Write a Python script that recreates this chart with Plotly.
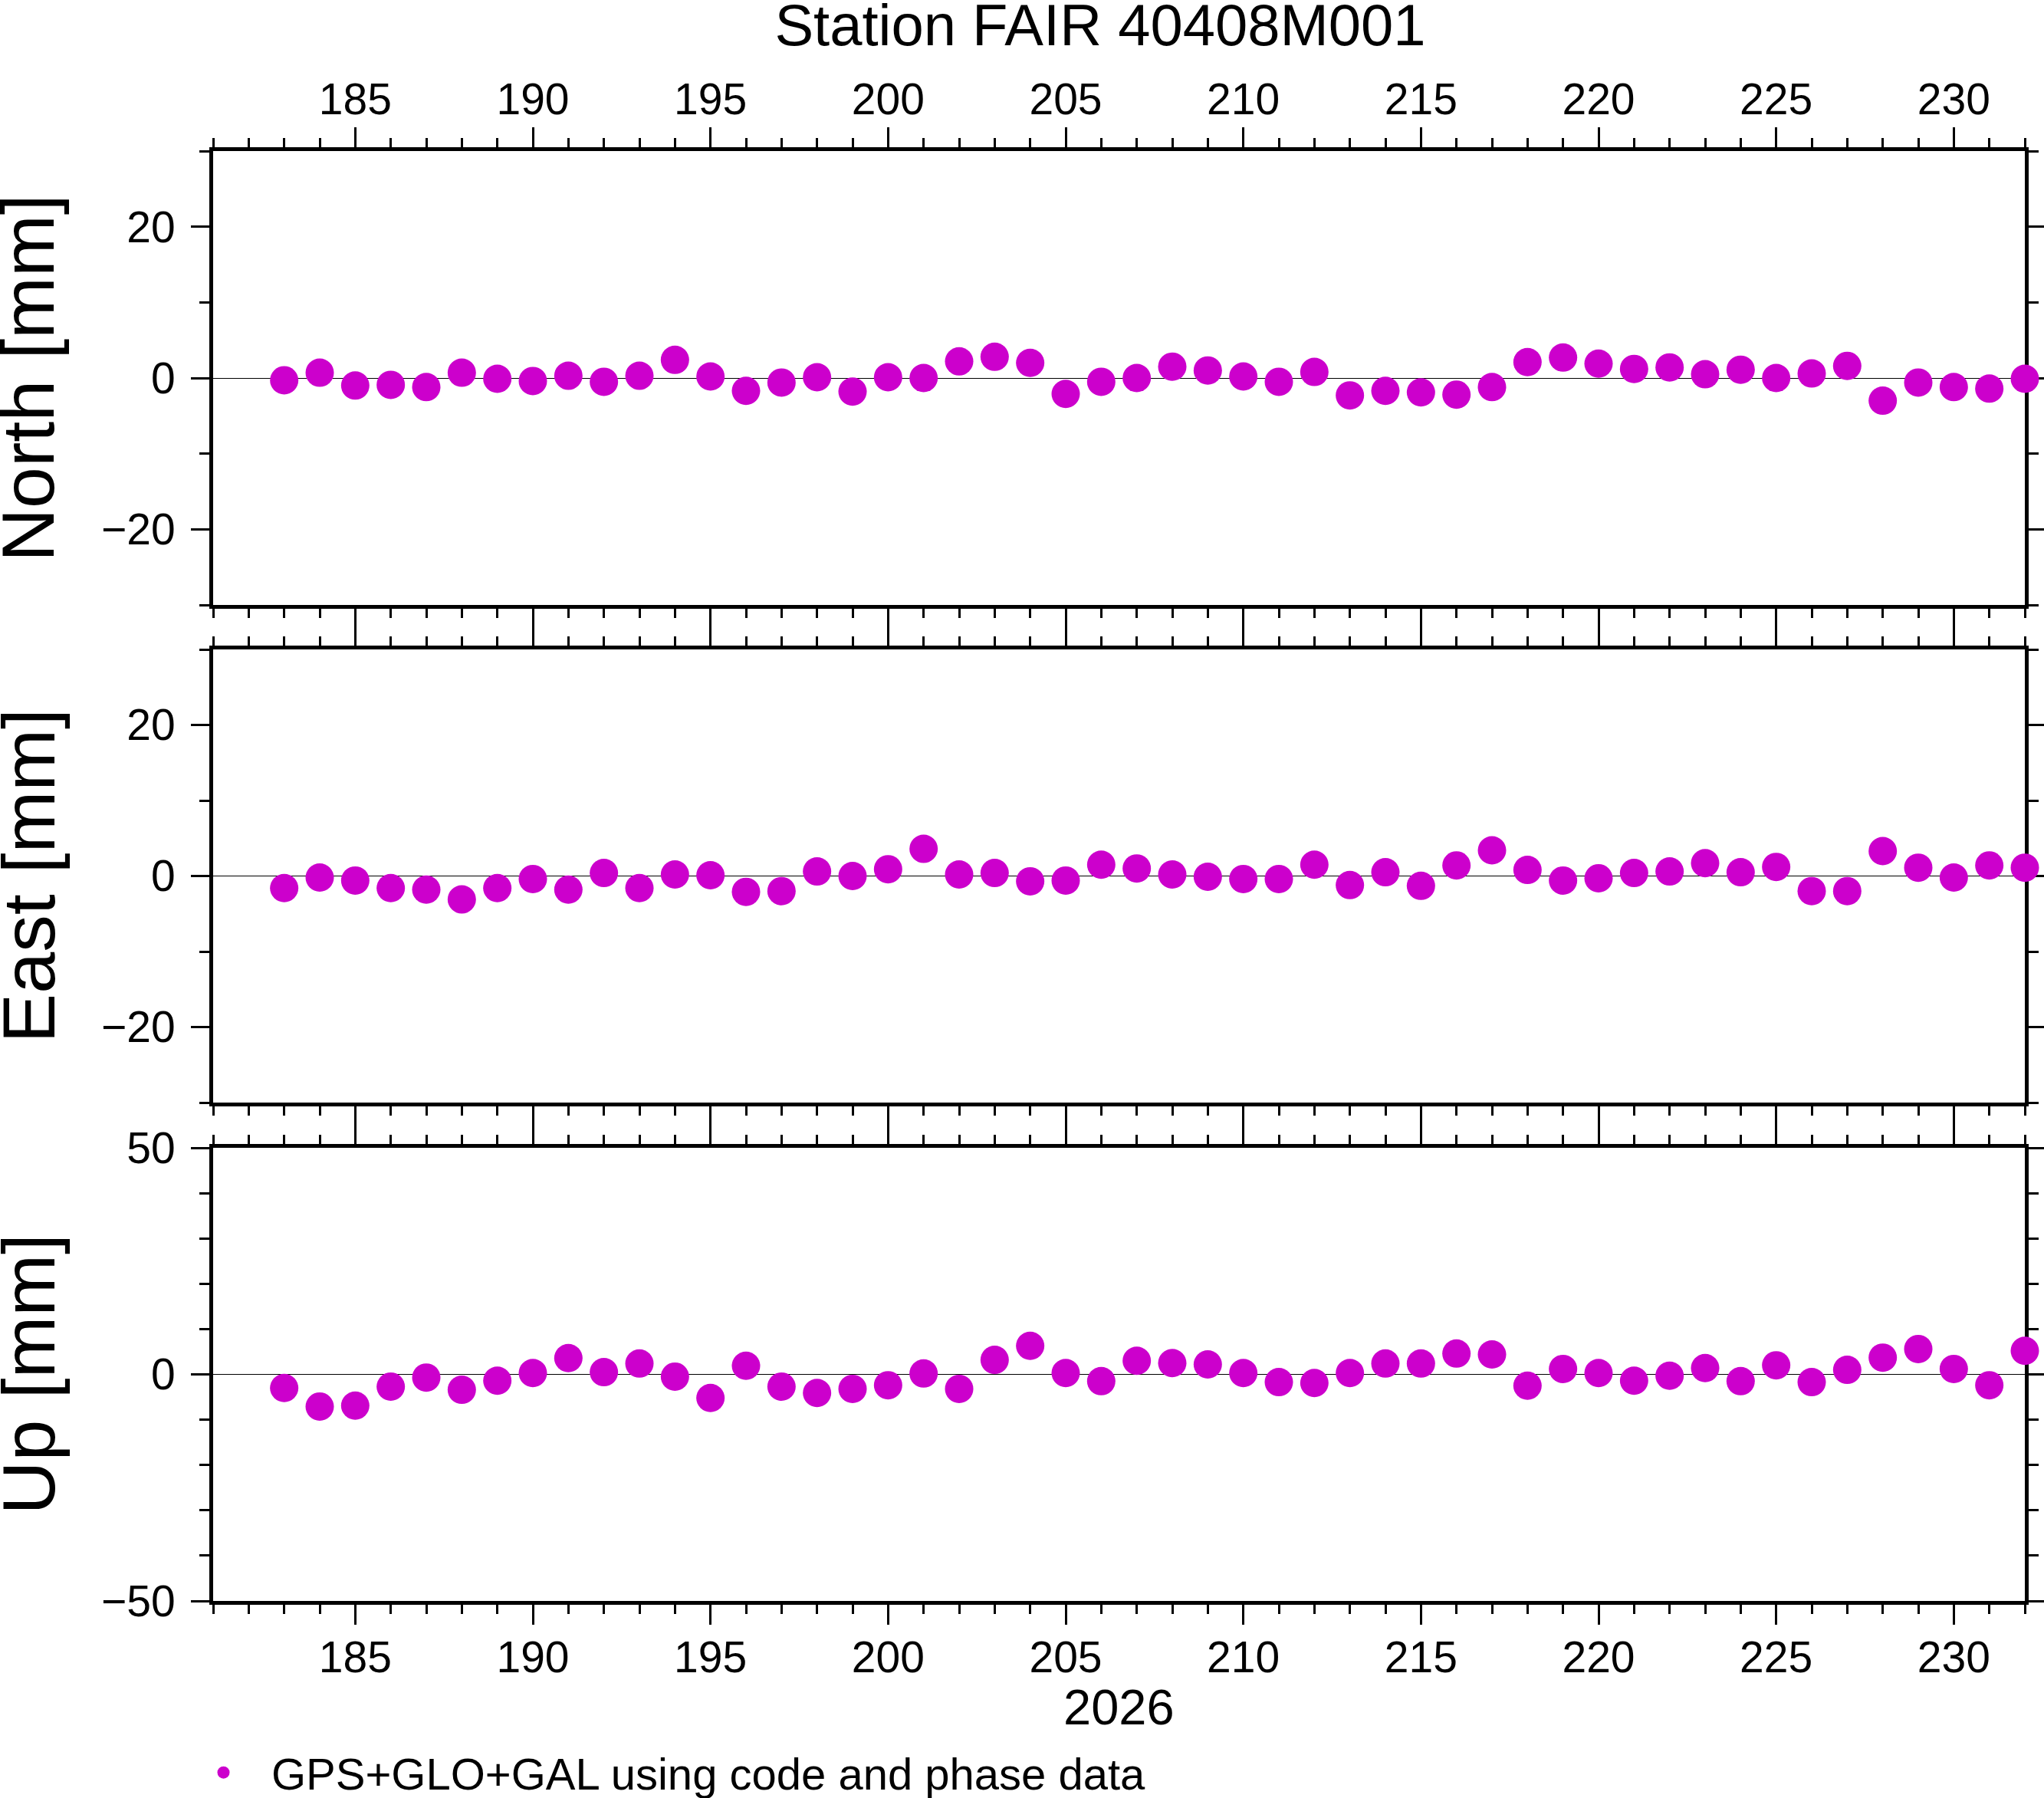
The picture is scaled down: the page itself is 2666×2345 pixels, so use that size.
import plotly.graph_objects as go  # Plotly graph objects for the figure

# Day of year 2026 for each daily solution
days = [183, 184, 185, 186, 187, 188, 189, 190, 191, 192, 193, 194, 195, 196, 197, 198, 199,
        200, 201, 202, 203, 204, 205, 206, 207, 208, 209, 210, 211, 212, 213, 214, 215, 216,
        217, 218, 219, 220, 221, 222, 223, 224, 225, 226, 227, 228, 229, 230, 231, 232]

# Coordinate residuals in mm
north = [-0.3, 0.7, -1.0, -0.9, -1.2, 0.7, -0.1, -0.4, 0.3, -0.5, 0.3, 2.4, 0.2, -1.7, -0.6, 0.1, -1.8,
         0.1, 0.0, 2.2, 2.8, 2.0, -2.1, -0.5, 0.0, 1.5, 1.0, 0.2, -0.5, 0.8, -2.3, -1.7, -1.9, -2.2,
         -1.2, 2.1, 2.7, 1.9, 1.2, 1.4, 0.5, 1.1, 0.0, 0.6, 1.6, -3.0, -0.6, -1.2, -1.4, -0.1]
east = [-1.6, -0.2, -0.6, -1.6, -1.8, -3.1, -1.6, -0.4, -1.8, 0.4, -1.6, 0.2, 0.1, -2.1, -2.0, 0.6, 0.0,
        0.9, 3.6, 0.2, 0.4, -0.7, -0.6, 1.5, 1.0, 0.2, -0.1, -0.4, -0.4, 1.5, -1.2, 0.5, -1.3, 1.4,
        3.4, 0.8, -0.6, -0.3, 0.4, 0.6, 1.7, 0.5, 1.2, -2.0, -2.0, 3.3, 1.1, -0.2, 1.4, 1.1]
up = [-3.0, -7.1, -6.9, -2.7, -0.7, -3.4, -1.4, 0.3, 3.6, 0.5, 2.4, -0.5, -5.2, 1.9, -2.7, -4.1, -3.2,
      -2.4, 0.2, -3.2, 3.2, 6.3, 0.3, -1.5, 3.0, 2.5, 2.2, 0.3, -1.7, -1.9, 0.3, 2.4, 2.4, 4.6,
      4.4, -2.5, 1.2, 0.3, -1.4, -0.3, 1.4, -1.5, 2.0, -1.7, 1.0, 3.7, 5.6, 1.2, -2.4, 5.2]

panel_names = ["North [mm]", "East [mm]", "Up [mm]"]
series = [north, east, up]
y_ranges = [[-30, 30], [-30, 30], [-50, 50]]
y_major = [20, 20, 50]
y_minor = [10, 10, 10]
x_range = [181, 232]
year_label = "2026"
title = "Station FAIR 40408M001"
legend_name = "GPS+GLO+GAL using code and phase data"

W, H = 2666, 2345
L, R, T, B = 278, 25, 197, 257
plot_h = H - T - B
# panel pixel edges (top, bottom) measured on the reference
panel_px = [(197, 789), (847, 1438), (1497, 2088)]
FONT = "Liberation Sans, Arial, Helvetica, sans-serif"
COLOR = "#CC00CC"

fig = go.Figure()
for i, vals in enumerate(series):
    fig.add_trace(go.Scatter(
        x=days, y=vals, mode="markers",
        marker=dict(size=37, color=COLOR),
        name=legend_name, showlegend=(i == 0),
        cliponaxis=False,
        xaxis="x" if i == 0 else "x%d" % (i + 1),
        yaxis="y" if i == 0 else "y%d" % (i + 1),
    ))

axis_common = dict(showline=True, linewidth=5, linecolor="black", mirror="ticks",
                   ticks="outside", tickcolor="black", showgrid=False, layer="below traces",
                   tickfont=dict(family=FONT, size=57, color="black"))

layout = dict(width=W, height=H, margin=dict(l=L, r=R, t=T, b=B, autoexpand=False),
              paper_bgcolor="white", plot_bgcolor="white",
              font=dict(family=FONT, color="black"))

annotations = []
for i in range(3):
    top, bot = panel_px[i]
    dom = [(T + plot_h - bot) / plot_h, (T + plot_h - top) / plot_h]
    xs = "" if i == 0 else str(i + 1)
    xa = dict(axis_common, range=x_range, domain=[0, 1], anchor="y" + xs,
              dtick=5, tick0=0, ticklen=26, tickwidth=3, ticklabelstandoff=-6,
              minor=dict(dtick=1, tick0=0, ticklen=12, tickwidth=3, ticks="outside", tickcolor="black"),
              zeroline=False)
    if i == 0:
        xa["side"] = "top"
    elif i == 1:
        xa["showticklabels"] = False
    if i > 0:
        xa["matches"] = "x"
    ya = dict(axis_common, range=y_ranges[i], domain=dom, anchor="x" + xs,
              dtick=y_major[i], tick0=0, ticklen=24, tickwidth=3, ticklabelstandoff=9,
              minor=dict(dtick=y_minor[i], tick0=0, ticklen=13, tickwidth=3, ticks="outside", tickcolor="black"),
              zeroline=True, zerolinecolor="black", zerolinewidth=1)
    layout["xaxis" + xs] = xa
    layout["yaxis" + xs] = ya
    # big rotated component label left of each panel
    annotations.append(dict(text=panel_names[i], xref="paper", yref="paper",
                            x=(37 - L) / (W - L - R), y=(dom[0] + dom[1]) / 2,
                            textangle=-90, showarrow=False, xanchor="center", yanchor="middle",
                            font=dict(family=FONT, size=97, color="black")))

# year label under the bottom axis
annotations.append(dict(text=year_label, xref="paper", yref="paper", x=0.5,
                        y=(T + plot_h - 2226) / plot_h, showarrow=False,
                        xanchor="center", yanchor="middle",
                        font=dict(family=FONT, size=65, color="black")))

layout["annotations"] = annotations
layout["title"] = dict(text=title, xref="paper", x=(1435 - L) / (W - L - R), xanchor="center",
                       yref="container", y=1 - 32 / H, yanchor="middle",
                       font=dict(family=FONT, size=76, color="black"))
layout["showlegend"] = True
layout["legend"] = dict(xref="container", yref="container", x=229 / W, y=1 - 2312 / H,
                        xanchor="left", yanchor="middle", orientation="h", itemwidth=115,
                        bgcolor="rgba(0,0,0,0)", font=dict(family=FONT, size=58, color="black"))

fig.update_layout(layout)
# drop the browser's default 8 px body margin so the figure sits at the page corner
fig.write_html("out.html", config={"displayModeBar": False},
               post_script="document.body.style.margin='0px';")
